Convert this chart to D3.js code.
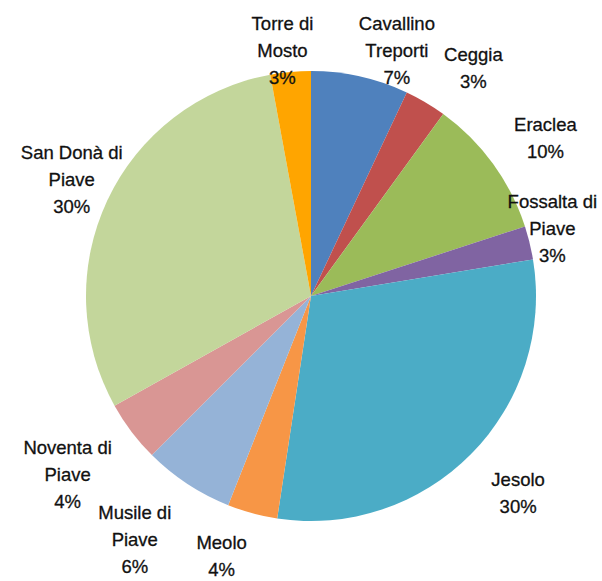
<!DOCTYPE html>
<html>
<head>
<meta charset="utf-8">
<script src="https://cdn.jsdelivr.net/npm/d3@7"></script>
<style>
  body { margin: 0; background: #fff; }
  #chart text { font-family: "Liberation Sans", Arial, sans-serif; font-size: 18.5px; fill: #111; stroke: #111; stroke-width: 0.3px; }
</style>
</head>
<body>
<div id="chart"></div>
<script>
var comuni = ["Cavallino Treporti", "Ceggia", "Eraclea", "Fossalta di Piave", "Jesolo",
              "Meolo", "Musile di Piave", "Noventa di Piave", "San Donà di Piave", "Torre di Mosto"];
var shares = [7.0, 3.0, 10.0, 2.4, 30.0, 3.6, 6.5, 4.4, 30.2, 2.9];
var pctLabels = ["7%", "3%", "10%", "3%", "30%", "4%", "6%", "4%", "30%", "3%"];
var colors = ["#4f81bd", "#c0504d", "#9bbb59", "#8064a2", "#4bacc6",
              "#f79646", "#95b3d7", "#d99694", "#c3d69b", "#ffa500"];

function chart(){
  var width = 602, height = 581,
      cx = 311, cy = 296,
      radius = 225,
      labelRadius = 270,
      lineHeight = 27;

  // excel "best fit" moves some labels off the mid angle
  var nudge = [[27,18],[25,4],[16,1],[-21,-4],[15,7],[-19,-1],[-28,18],[-28,16],[5,-2],[-4,23]];

  var data = comuni.map(function(d, i){ return {name: d, value: shares[i], pct: pctLabels[i], i: i}; });

  var color = d3.scaleOrdinal().domain(comuni).range(colors);

  var pie = d3.pie()
      .sort(null)
      .value(function(d) { return d.value; });

  var arc = d3.arc().innerRadius(0).outerRadius(radius);
  var labelArc = d3.arc().innerRadius(labelRadius).outerRadius(labelRadius);

  var svg = d3.select('#chart').append('svg')
      .attr('width', width)
      .attr('height', height);

  var g = svg.append('g')
      .attr('transform', 'translate(' + cx + ',' + cy + ')');

  var arcs = pie(data);

  g.selectAll('.slice')
      .data(arcs)
    .enter().append('path')
      .attr('class', 'slice')
      .attr('d', arc)
      .attr('fill', function(d) { return color(d.data.name); });

  var labels = g.selectAll('.label')
      .data(arcs)
    .enter().append('text')
      .attr('class', 'label')
      .attr('text-anchor', 'middle');

  labels.each(function(d){
    var text = d3.select(this),
        c = labelArc.centroid(d),
        n = nudge[d.data.i],
        x = c[0] + n[0],
        y = c[1] + n[1];
    var lines = wrap(text, d.data.name, 106);
    lines.push(d.data.pct);
    text.text(null);
    var y0 = y - (lines.length - 1) * lineHeight / 2;
    lines.forEach(function(l, k){
      text.append('tspan')
          .attr('x', x)
          .attr('y', y0 + k * lineHeight)
          .attr('dy', '0.35em')
          .text(l);
    });
  });

  function wrap(text, str, w){
    var words = str.split(/\s+/),
        out = [],
        line = [];
    words.forEach(function(word){
      line.push(word);
      text.text(line.join(' '));
      if (text.node().getComputedTextLength() > w && line.length > 1) {
        line.pop();
        out.push(line.join(' '));
        line = [word];
      }
    });
    out.push(line.join(' '));
    return out;
  }
}

chart();
</script>
</body>
</html>
